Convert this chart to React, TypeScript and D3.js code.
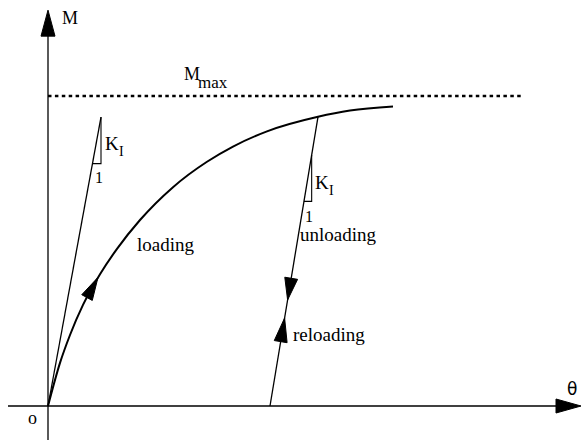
import React from "react";
import * as d3 from "d3";

const W = 582;
const H = 440;

// Loading curve (theta, M) with M normalised so that Mmax = 1
const loadingTheta = [0, 0.24, 0.44, 0.7, 1.04, 1.38, 1.84, 2.5, 3.18, 3.7, 4.38, 5.4, 6.04, 6.9];
const loadingM = [0, 0.139, 0.229, 0.326, 0.425, 0.507, 0.6, 0.706, 0.788, 0.837, 0.886, 0.933, 0.953, 0.966];
// Initial elastic stiffness line K_I
const elasticTheta = [0, 1.06];
const elasticM = [0, 0.932];
// Unloading / reloading line
const unloadTheta = [5.4, 4.44];
const unloadM = [0.933, 0];
// Mmax level
const mmaxValue = 1;
const mmaxTheta = [0, 9.48];
// Axis extents
const thetaAxis = [-0.8, 10.66];
const mAxis = [-0.11, 1.277];
// Arrow positions on the curves
const loadingArrowTip = [1.0, 0.415];
const loadingArrowFrom = [0.7, 0.326];
const unloadArrowM = 0.342;
const reloadArrowM = 0.284;
// K_I triangle levels
const k1Levels = [0.932, 0.782];
const k2Levels = [0.81, 0.66];

const x = d3.scaleLinear().domain([0, 10]).range([48, 548]);
const y = d3.scaleLinear().domain([0, 1]).range([406, 96]);

function arrowHead(tx: number, ty: number, fx: number, fy: number, len: number, hw: number) {
  const dx = tx - fx, dy = ty - fy;
  const d = Math.hypot(dx, dy);
  const ux = dx / d, uy = dy / d;
  const bx = tx - ux * len, by = ty - uy * len;
  const px = -uy, py = ux;
  return `M${tx},${ty}L${bx + px * hw},${by + py * hw}L${bx - px * hw},${by - py * hw}Z`;
}

function thetaOnUnload(m: number) {
  const t = (m - unloadM[0]) / (unloadM[1] - unloadM[0]);
  return unloadTheta[0] + t * (unloadTheta[1] - unloadTheta[0]);
}
function thetaOnElastic(m: number) {
  return (m / elasticM[1]) * elasticTheta[1];
}

export default function App() {
  const line = d3
    .line<[number, number]>()
    .x((d) => x(d[0]))
    .y((d) => y(d[1]))
    .curve(d3.curveMonotoneX);
  const loadingPts: [number, number][] = loadingTheta.map((t, i) => [t, loadingM[i]]);
  const straight = d3.line<[number, number]>().x((d) => x(d[0])).y((d) => y(d[1]));

  const x0 = x(0), y0 = y(0);
  const yTop = y(mAxis[1]);
  const xEnd = x(thetaAxis[1]);

  const uTipT = thetaOnUnload(unloadArrowM);
  const uFromT = thetaOnUnload(unloadArrowM + 0.1);
  const rTipT = thetaOnUnload(reloadArrowM);
  const rFromT = thetaOnUnload(reloadArrowM - 0.1);

  const font = "'Liberation Serif', 'Times New Roman', serif";

  const t1x = x(thetaOnElastic(k1Levels[0]));
  const t2x = x(thetaOnUnload(k2Levels[0]));

  return (
    <svg width={W} height={H} style={{ position: "absolute", left: 0, top: 0, background: "#fff" }}>
      <g fill="none" stroke="#000">
        <line x1={x0} y1={y(mAxis[0])} x2={x0} y2={yTop + 20} strokeWidth={1.3} />
        <line x1={x(thetaAxis[0])} y1={y0} x2={xEnd - 20} y2={y0} strokeWidth={1.6} />
        <line
          x1={x(mmaxTheta[0])}
          y1={y(mmaxValue)}
          x2={x(mmaxTheta[1])}
          y2={y(mmaxValue)}
          strokeWidth={2.6}
          strokeDasharray="3.5 3.4"
        />
        <path d={line(loadingPts) || ""} strokeWidth={2} />
        <path d={straight([[elasticTheta[0], elasticM[0]], [elasticTheta[1], elasticM[1]]]) || ""} strokeWidth={1.3} />
        <path d={straight([[unloadTheta[0], unloadM[0]], [unloadTheta[1], unloadM[1]]]) || ""} strokeWidth={1.3} />
        <path
          d={`M${t1x},${y(k1Levels[0])}V${y(k1Levels[1])}H${x(thetaOnElastic(k1Levels[1]))}`}
          strokeWidth={1.1}
        />
        <path
          d={`M${t2x},${y(k2Levels[0])}V${y(k2Levels[1])}H${x(thetaOnUnload(k2Levels[1]))}`}
          strokeWidth={1.1}
        />
      </g>
      <g fill="#000" stroke="#000" strokeWidth={1}>
        <path d={arrowHead(x0, yTop, x0, yTop + 10, 26, 7)} />
        <path d={arrowHead(xEnd, y0, xEnd - 10, y0, 25, 7)} />
        <path
          d={arrowHead(
            x(loadingArrowTip[0]),
            y(loadingArrowTip[1]),
            x(loadingArrowFrom[0]),
            y(loadingArrowFrom[1]),
            23,
            6
          )}
        />
        <path d={arrowHead(x(uTipT), y(unloadArrowM), x(uFromT), y(unloadArrowM + 0.1), 22, 6.5)} />
        <path d={arrowHead(x(rTipT), y(reloadArrowM), x(rFromT), y(reloadArrowM - 0.1), 24, 6.5)} />
      </g>
      <g fill="#000" fontFamily={font}>
        <text x={62} y={24} fontSize={18}>M</text>
        <text x={184} y={80} fontSize={18}>M</text>
        <text x={198} y={88} fontSize={17}>max</text>
        <text x={105} y={150} fontSize={19}>K</text>
        <text x={119} y={156} fontSize={14}>I</text>
        <text x={95} y={183} fontSize={16}>1</text>
        <text x={315} y={189} fontSize={19}>K</text>
        <text x={329} y={195} fontSize={14}>I</text>
        <text x={305} y={222} fontSize={16}>1</text>
        <text x={137} y={251} fontSize={19}>loading</text>
        <text x={300} y={241} fontSize={19}>unloading</text>
        <text x={293} y={341} fontSize={19}>reloading</text>
        <text x={567} y={395} fontSize={17} fontFamily="'DejaVu Sans', sans-serif">θ</text>
        <text x={28} y={424} fontSize={18}>o</text>
      </g>
    </svg>
  );
}
